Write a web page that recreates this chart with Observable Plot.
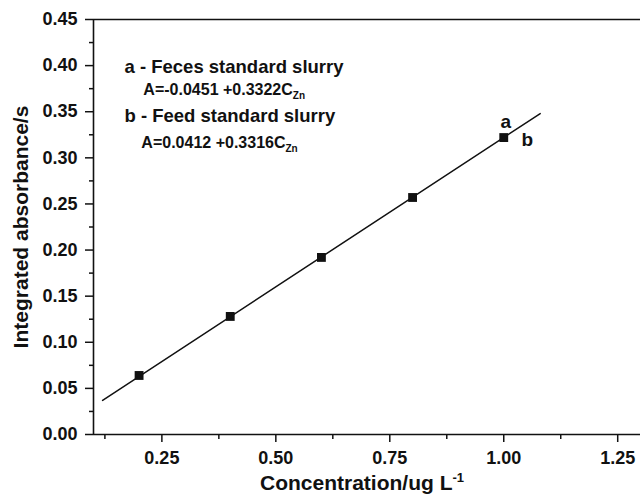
<!DOCTYPE html>
<html><head><meta charset="utf-8">
<script src="https://cdn.jsdelivr.net/npm/d3@7"></script>
<script src="https://cdn.jsdelivr.net/npm/@observablehq/plot@0.6"></script>
<style>
body{margin:0;background:#fff}
#chart svg{font-family:"Liberation Sans",Arial,Helvetica,sans-serif;font-weight:bold}
</style>
</head><body><div id="chart"></div>
<script>
// data
const concentration = [0.2, 0.4, 0.6, 0.8, 1.0];
const absorbance = [0.064, 0.128, 0.192, 0.257, 0.322];
const fitX = [0.12, 1.08];
const fitY = [0.037, 0.348];
const xTicks = [0.25, 0.5, 0.75, 1.0, 1.25];
const xMinor = [0.125, 0.375, 0.625, 0.875, 1.125];
const yTicks = [0, 0.05, 0.1, 0.15, 0.2, 0.25, 0.3, 0.35, 0.4, 0.45];
const yMinor = [0.025, 0.075, 0.125, 0.175, 0.225, 0.275, 0.325, 0.375, 0.425];
const xLabel = "Concentration/ug L";
const yLabel = "Integrated absorbance/s";
const legendTitles = ["a - Feces standard slurry", "b - Feed standard slurry"];
const legendTitleX = [0.168, 0.168];
const legendTitleY = [0.398, 0.3448];
const equations = ["A=-0.0451 +0.3322C", "A=0.0412 +0.3316C"];
const equationX = [0.2094, 0.205];
const equationY = [0.3742, 0.3166];
const lineLabels = ["a", "b"];
const lineLabelX = [0.993, 1.039];
const lineLabelY = [0.3394, 0.3199];

const points = concentration.map((c, i) => ({c, a: absorbance[i]}));
const fit = fitX.map((x, i) => ({x, y: fitY[i]}));
const titles = legendTitles.map((t, i) => ({t, x: legendTitleX[i], y: legendTitleY[i]}));
const eqs = equations.map((t, i) => ({t, x: equationX[i], y: equationY[i]}));
const labs = lineLabels.map((t, i) => ({t, x: lineLabelX[i], y: lineLabelY[i]}));

const svg = Plot.plot({
  width: 640, height: 494,
  marginLeft: 93, marginRight: 0, marginTop: 19, marginBottom: 60,
  x: {domain: [0.1, 1.3]},
  y: {domain: [0, 0.45]},
  style: {background: "#fff", color: "#111"},
  marks: [
    Plot.axisY({ticks: yTicks, tickFormat: d3.format(".2f"), tickSize: 8, tickPadding: 8, fontSize: 18, strokeWidth: 1.5,
      label: yLabel, labelAnchor: "center", labelArrow: "none", labelOffset: 80}),
    Plot.axisY({ticks: yMinor, tickSize: 4, text: null, label: null, strokeWidth: 1.5}),
    Plot.axisX({ticks: xTicks, tickFormat: d3.format(".2f"), tickSize: 8, tickPadding: 9, fontSize: 18, strokeWidth: 1.5,
      label: xLabel, labelAnchor: "center", labelArrow: "none", labelOffset: 55}),
    Plot.axisX({ticks: xMinor, tickSize: 5, text: null, label: null, strokeWidth: 1.5}),
    Plot.ruleY([0, 0.45], {stroke: "#111", strokeWidth: 1.6}),
    Plot.ruleX([0.1], {stroke: "#111", strokeWidth: 1.6}),
    Plot.line(fit, {x: "x", y: "y", stroke: "#111", strokeWidth: 1.5}),
    Plot.dot(points, {x: "c", y: "a", symbol: "square", r: 5, fill: "#111", stroke: "none"}),
    Plot.text(titles, {x: "x", y: "y", text: "t", textAnchor: "start", fontSize: 18.5, fill: "#111"}),
    Plot.text(eqs, {x: "x", y: "y", text: "t", textAnchor: "start", fontSize: 16, fill: "#111", className: "eq"}),
    Plot.text(labs, {x: "x", y: "y", text: "t", textAnchor: "start", fontSize: 19, fill: "#111"})
  ]
});

// subscripts / superscripts
d3.select(svg).selectAll("g.eq text").each(function() {
  d3.select(this).append("tspan").attr("font-size", 10).attr("dy", "0.45em").text("Zn");
});
d3.select(svg).selectAll("text").filter(function() { return this.textContent === xLabel; })
  .each(function() {
    d3.select(this).attr("font-size", 21).attr("dx", -5);
    d3.select(this).append("tspan").attr("font-size", 13).attr("dy", "-0.6em").text("-1");
  });
d3.select(svg).selectAll("text").filter(function() { return this.textContent === yLabel; })
  .attr("font-size", 21);

document.getElementById("chart").appendChild(svg);
</script>
</body></html>
